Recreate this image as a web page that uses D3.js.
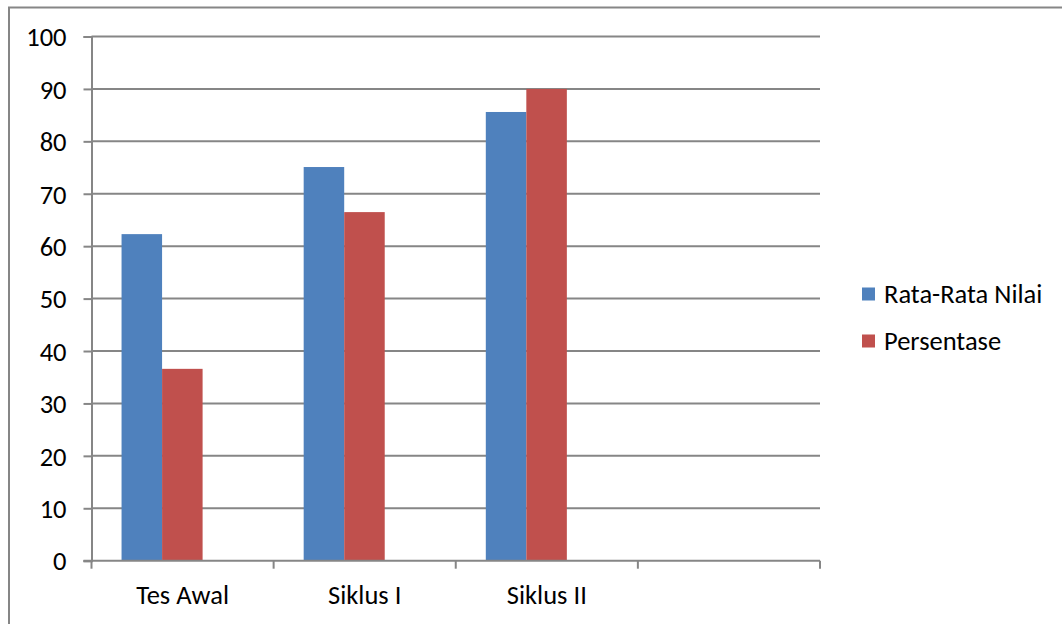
<!DOCTYPE html>
<html><head><meta charset="utf-8">
<script src="https://cdn.jsdelivr.net/npm/d3@7"></script>
<style>body{margin:0;background:#fff}svg{display:block;font-family:Carlito,Calibri,Lato,"Open Sans",sans-serif}</style>
</head><body><svg id="c" width="1062" height="624"></svg>
<script>
const categories = ["Tes Awal", "Siklus I", "Siklus II", ""];
const seriesNames = ["Rata-Rata Nilai", "Persentase"];
const rataRata = [62.3, 75.1, 85.6, null];
const persentase = [36.6, 66.5, 90.0, null];
const yTicks = [0,10,20,30,40,50,60,70,80,90,100];
const colors = ["#4F81BD", "#C0504D"];

const svg = d3.select("#c");
const grid = "#868686";
const FS = 26.5;
// frame
svg.append("path").attr("d","M9,630 V7.5 H1070").attr("fill","none").attr("stroke",grid).attr("stroke-width",2);

const x0 = 91.5, x1 = 820, yB = 560.7, yT = 36.5;
const x = d3.scaleBand().domain(categories).range([x0, x1]).padding(0);
const y = d3.scaleLinear().domain([0,100]).range([yB, yT]);
const xs = d3.scaleBand().domain(seriesNames).range([x.bandwidth()*0.165, x.bandwidth()*0.61]);

// gridlines
svg.append("g").selectAll("line").data(yTicks.filter(d=>d>0)).join("line")
  .attr("x1", x0).attr("x2", x1).attr("y1", d=>y(d)).attr("y2", d=>y(d))
  .attr("stroke", grid).attr("stroke-width", 2);

// y axis
const ya = svg.append("g").attr("transform", `translate(${x0},0)`)
  .call(d3.axisLeft(y).tickValues(yTicks).tickSize(8).tickPadding(17));
ya.attr("font-size", FS).attr("font-family", null);
ya.select(".domain").attr("stroke", grid).attr("stroke-width", 2);
ya.selectAll(".tick line").attr("stroke", grid).attr("stroke-width", 2);
ya.selectAll("text").attr("font-size", FS).attr("fill", "#000").attr("dy","0.35em");

// bars
const data = categories.map((c,i)=>({c, vals:[rataRata[i], persentase[i]]}));
const gb = svg.append("g");
data.forEach(d=>{
  d.vals.forEach((v,j)=>{
    if (v==null) return;
    gb.append("rect")
      .attr("x", x(d.c)+xs(seriesNames[j]))
      .attr("width", xs.bandwidth())
      .attr("y", y(v)).attr("height", yB - y(v))
      .attr("fill", colors[j]);
  });
});

// x axis
const xa = svg.append("g").attr("transform", `translate(0,${yB})`);
xa.append("line").attr("x1", x0-8).attr("x2", x1).attr("stroke", grid).attr("stroke-width", 2);
const bounds = categories.map(c=>x(c)).concat([x1]);
xa.selectAll("line.t").data(bounds).join("line").attr("class","t")
  .attr("x1", d=>d).attr("x2", d=>d).attr("y1", 0).attr("y2", 8)
  .attr("stroke", grid).attr("stroke-width", 2);
xa.selectAll("text").data(categories).join("text")
  .attr("x", d=>x(d)+x.bandwidth()/2).attr("y", 34).attr("dy","0.35em")
  .attr("text-anchor","middle").attr("font-size", FS).attr("fill","#000").text(d=>d);

// legend
const lg = svg.append("g").attr("transform","translate(862,0)");
seriesNames.forEach((s,i)=>{
  const cy = 294 + i*47;
  lg.append("rect").attr("x",0).attr("y",cy-6.5).attr("width",13).attr("height",13).attr("fill",colors[i]);
  lg.append("text").attr("x",22).attr("y",cy).attr("dy","0.35em").attr("font-size",FS).attr("fill","#000").text(s);
});
</script></body></html>
